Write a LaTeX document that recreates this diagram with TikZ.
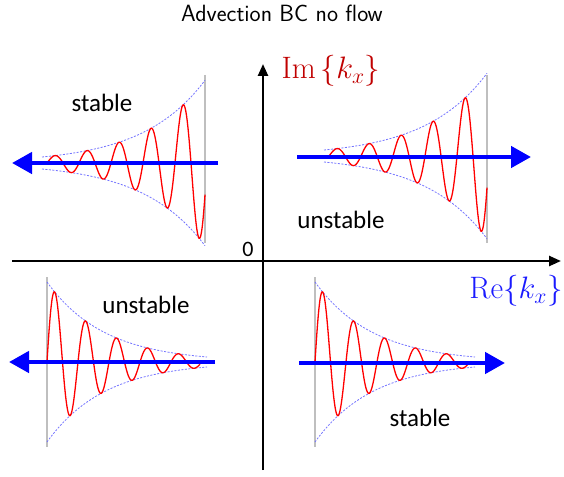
\documentclass[tikz,border=0pt]{standalone}
\usepackage{fix-cm}
\usepackage{fontspec}
\newfontfamily\labelfont{Carlito}
\usetikzlibrary{arrows.meta,positioning}
\definecolor{imred}{HTML}{C00000}
\definecolor{reblue}{HTML}{1A1AFF}

\begin{document}
\begin{tikzpicture}[
    x=1pt, y=-1pt,
    axis/.style={line width=2.4pt, -{Triangle[length=12pt,width=10pt]}},
    flow/.style={line width=4.5pt, blue, -{Triangle[length=20pt,width=21pt]}},
    wave/.style={red, line width=1.3pt, smooth, samples=240},
    envelope/.style={blue!55, line width=0.8pt, dash pattern=on 2pt off 1.5pt, smooth, samples=60},
    wall/.style={gray!50, line width=1.2pt},
    regime/.style={font=\labelfont\fontsize{25}{28}\selectfont},
    axislabel/.style={font=\fontsize{31}{34}\selectfont}
]
\useasboundingbox (0,0) rectangle (564,476);

% Title
\node[font=\sffamily\fontsize{23.5}{26}\selectfont] (title) at (282,13) {Advection BC no flow};

% Axes
\coordinate (xstart) at (12,261);
\coordinate (xend) at (561,261);
\coordinate (ystart) at (263,470);
\coordinate (yend) at (263,64);
\draw[axis] (xstart) -- (xend);
\draw[axis] (ystart) -- (yend);
\node[font=\labelfont\fontsize{22}{24}\selectfont] (zero) at (248,249) {0};
\node[axislabel, text=imred] (imlab) at (331,71) {$\mathrm{Im}\,\{k_x\}$};
\node[axislabel, text=reblue] (relab) at (516,291) {$\mathrm{Re}\{k_x\}$};

% Upper half: growing waves
\foreach \dx/\yc in {0/163, 282/156} {
  \draw[wall] (205+\dx,75) -- (205+\dx,243);
  \draw[envelope] plot[domain=42+\dx:205+\dx] (\x, {\yc - 6*exp(0.0161*(\x-42-\dx))});
  \draw[envelope] plot[domain=42+\dx:205+\dx] (\x, {\yc + 6*exp(0.0161*(\x-42-\dx))});
  \draw[wave] plot[domain=47+\dx:205+\dx] (\x, {\yc - 6*exp(0.0161*(\x-42-\dx))*sin(11.25*(\x-47-\dx))});
}

% Lower half: decaying waves
\foreach \dx/\yc in {0/362, 268/362} {
  \draw[wall] (47+\dx,277) -- (47+\dx,447);
  \draw[envelope] plot[domain=47+\dx:207+\dx] (\x, {\yc - 80*exp(-0.0173*(\x-47-\dx))});
  \draw[envelope] plot[domain=47+\dx:207+\dx] (\x, {\yc + 80*exp(-0.0173*(\x-47-\dx))});
  \draw[wave] plot[domain=47+\dx:200+\dx] (\x, {\yc - 80*exp(-0.0173*(\x-47-\dx))*sin(11.613*(\x-47-\dx))});
}

% Propagation direction
\coordinate (tlA) at (218,163);
\coordinate (tlB) at (12,163);
\coordinate (trA) at (297,157);
\coordinate (trB) at (531,157);
\coordinate (blA) at (215,362);
\coordinate (blB) at (9,362);
\coordinate (brA) at (299,363);
\coordinate (brB) at (505,363);
\draw[flow] (tlA) -- (tlB);
\draw[flow] (trA) -- (trB);
\draw[flow] (blA) -- (blB);
\draw[flow] (brA) -- (brB);

% Regimes
\node[regime] (stabTL) at (102,103) {stable};
\node[regime] (unstTR) at (341,220) {unstable};
\node[regime] (unstBL) at (146,305) {unstable};
\node[regime] (stabBR) at (420,418) {stable};

\end{tikzpicture}
\end{document}
